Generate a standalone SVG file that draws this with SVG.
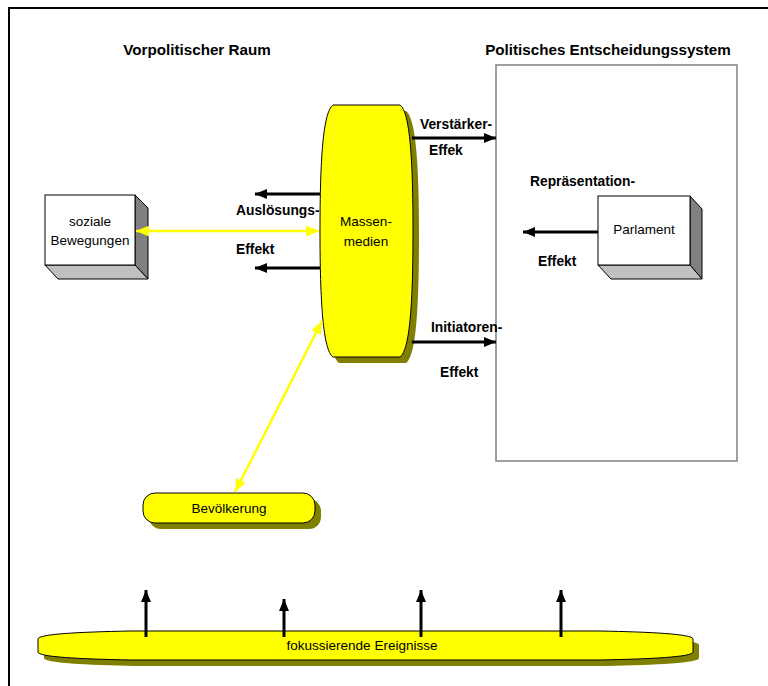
<svg xmlns="http://www.w3.org/2000/svg" width="768" height="686" viewBox="0 0 768 686">
<defs>
<marker id="ab" viewBox="0 0 12 10" refX="12" refY="5" markerWidth="12" markerHeight="10" markerUnits="userSpaceOnUse" orient="auto-start-reverse"><path d="M0,0 L12,5 L0,10 Z" fill="#000"/></marker>
<marker id="ay" viewBox="0 0 12 10" refX="12" refY="5" markerWidth="13" markerHeight="11" markerUnits="userSpaceOnUse" orient="auto-start-reverse"><path d="M0,0 L12,5 L0,10 Z" fill="#ff0"/></marker>
<style>
.t{font-family:"Liberation Sans",Arial,sans-serif;font-size:13.5px;fill:#000}
.b{font-weight:bold;font-size:13.8px}
.h{font-family:"Liberation Sans",Arial,sans-serif;font-size:15.2px;font-weight:bold;fill:#000}
.y{fill:#ff0;stroke:#000;stroke-width:1}
.sh{fill:#808000}
.front{fill:#fff;stroke:#000;stroke-width:1}
.side{fill:#808080;stroke:#000;stroke-width:1}
.bot{fill:#c0c0c0;stroke:#000;stroke-width:1}
.cb{stroke:#000;stroke-width:3;fill:none}
.cy{stroke:#ff0;stroke-width:2.5;fill:none}
</style>
</defs>
<rect width="768" height="686" fill="#fff"/>
<path d="M9,686 L9,8 L768,8" fill="none" stroke="#000" stroke-width="2"/>
<g id="titles">
<text class="h" x="197" y="55" text-anchor="middle">Vorpolitischer Raum</text>
<text class="h" x="608" y="55" text-anchor="middle">Politisches Entscheidungssystem</text>
</g>
<g id="politisches-system">
<rect x="496" y="65" width="241" height="396" fill="#fff" stroke="#808080" stroke-width="1.5"/>
</g>
<g id="massenmedien">
<path class="sh" transform="translate(6,6)" d="M333,105 L400,105 C410,112 413,160 413,231 C413,302 410,350 400,357 L333,357 C323,350 320,302 320,231 C320,160 323,112 333,105 Z"/>
<path class="y" d="M333,105 L400,105 C410,112 413,160 413,231 C413,302 410,350 400,357 L333,357 C323,350 320,302 320,231 C320,160 323,112 333,105 Z"/>
<text class="t" x="366" y="226" text-anchor="middle">Massen-</text>
<text class="t" x="366" y="246" text-anchor="middle">medien</text>
</g>
<g id="soziale-bewegungen">
<path class="side" d="M135,195 L148,208 L148,279 L135,265 Z"/>
<path class="bot" d="M45,265 L135,265 L148,279 L58,279 Z"/>
<rect class="front" x="45" y="195" width="90" height="70"/>
<text class="t" x="90" y="226" text-anchor="middle">soziale</text>
<text class="t" x="90" y="245" text-anchor="middle">Bewegungen</text>
</g>
<g id="parlament">
<path class="side" d="M690,196 L702,209 L702,279 L690,265 Z"/>
<path class="bot" d="M598,265 L690,265 L702,279 L611,279 Z"/>
<rect class="front" x="598" y="196" width="92" height="69"/>
<text class="t" x="644" y="234" text-anchor="middle">Parlament</text>
</g>
<g id="bevoelkerung">
<rect class="sh" x="149" y="499" width="172" height="30" rx="12"/>
<rect class="y" x="143" y="493" width="172" height="30" rx="12"/>
<text class="t" x="229" y="513" text-anchor="middle">Bevölkerung</text>
</g>
<g id="fokussierende-ereignisse">
<path class="sh" transform="translate(6,6)" d="M38,639 C38,634 80,632 130,631 L600,631 C650,632 693,634 693,639 L693,652 C693,657 650,659 600,660 L130,660 C80,659 38,657 38,652 Z"/>
<path class="y" d="M38,639 C38,634 80,632 130,631 L600,631 C650,632 693,634 693,639 L693,652 C693,657 650,659 600,660 L130,660 C80,659 38,657 38,652 Z"/>
<text class="t" x="362" y="650" text-anchor="middle">fokussierende Ereignisse</text>
</g>
<g id="connectors">
<line class="cb" x1="412" y1="138" x2="496" y2="138" marker-end="url(#ab)"/>
<line class="cb" x1="412" y1="342" x2="496" y2="342" marker-end="url(#ab)"/>
<line class="cb" x1="320" y1="194" x2="255" y2="194" marker-end="url(#ab)"/>
<line class="cb" x1="320" y1="268" x2="255" y2="268" marker-end="url(#ab)"/>
<line class="cb" x1="598" y1="232" x2="523" y2="232" marker-end="url(#ab)"/>
<line class="cy" x1="136" y1="231" x2="319" y2="231" marker-start="url(#ay)" marker-end="url(#ay)"/>
<line class="cy" x1="235" y1="492" x2="322" y2="321" marker-start="url(#ay)" marker-end="url(#ay)"/>
<line class="cb" x1="146" y1="637" x2="146" y2="590" marker-end="url(#ab)"/>
<line class="cb" x1="284" y1="637" x2="284" y2="599" marker-end="url(#ab)"/>
<line class="cb" x1="421" y1="637" x2="421" y2="590" marker-end="url(#ab)"/>
<line class="cb" x1="561" y1="637" x2="561" y2="590" marker-end="url(#ab)"/>
</g>
<g id="labels">
<text class="t b" x="420" y="129">Verstärker-</text>
<text class="t b" x="429" y="155">Effek</text>
<text class="t b" x="431" y="332">Initiatoren-</text>
<text class="t b" x="440" y="377">Effekt</text>
<text class="t b" x="236" y="215">Auslösungs-</text>
<text class="t b" x="236" y="254">Effekt</text>
<text class="t b" x="530" y="186">Repräsentation-</text>
<text class="t b" x="538" y="266">Effekt</text>
</g>
</svg>
